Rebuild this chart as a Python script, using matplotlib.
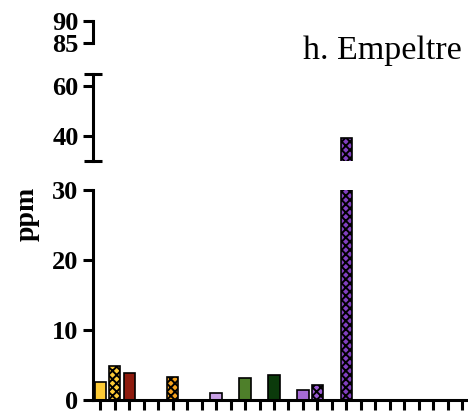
import matplotlib.pyplot as plt
from matplotlib.ticker import FixedLocator

plt.rcParams['font.family'] = 'Liberation Serif'
plt.rcParams['hatch.linewidth'] = 1.4

# one slot per sample, empty slots are zero
positions = list(range(26))
values = [2.6, 4.8, 3.9, 0, 0, 3.3, 0, 0, 1.0, 0, 3.1, 0, 3.6,
          0, 1.5, 2.2, 0, 39.0, 0, 0, 0, 0, 0, 0, 0, 0]
colors = ['#FDCB36', '#FDCB36', '#8E1B0E', 'white', 'white', '#F5A21E',
          'white', 'white', '#C9A0E6', 'white', '#4E7F2A', 'white', '#0B3A0B',
          'white', '#A66BD6', '#9B5BD3', 'white', '#8140C0', 'white', 'white',
          'white', 'white', 'white', 'white', 'white', 'white']
hatches = ['', 'xxxx', '', '', '', 'xxxx', '', '', '', '', '', '', '',
           '', '', 'xxxx', '', 'xxxx', '', '', '', '', '', '', '', '']

W, H = 468, 416
fig = plt.figure(figsize=(W / 100, H / 100), dpi=100)

def px_axes(top, bottom):
    return fig.add_axes([93 / W, (H - bottom) / H, (W - 93) / W, (bottom - top) / H])

ax_low = px_axes(190, 400)
ax_mid = px_axes(73.5, 161)
ax_top = px_axes(21, 43)

segments = [
    (ax_low, (0, 30), [0, 10, 20, 30], [30]),
    (ax_mid, (30, 65), [40, 60], [30, 65]),
    (ax_top, (85, 90), [85, 90], [85]),
]

lw = 2.2
for ax, lim, major, caps in segments:
    ax.bar(positions, values, width=0.78, color=colors, hatch=hatches,
           edgecolor='black', linewidth=1.2)
    ax.set_xlim(-0.5, 25.4)
    ax.set_ylim(*lim)
    ax.yaxis.set_major_locator(FixedLocator(major))
    ax.yaxis.set_minor_locator(FixedLocator(caps))
    for s in ['top', 'right']:
        ax.spines[s].set_visible(False)
    ax.spines['left'].set_linewidth(lw)
    ax.tick_params(axis='y', which='major', direction='out', length=7,
                   width=lw, pad=3.4, labelsize=19)
    ax.tick_params(axis='y', which='minor', direction='inout', length=13,
                   width=lw)
    for lab in ax.get_yticklabels():
        lab.set_fontweight('bold')
    if ax is ax_low:
        ax.spines['bottom'].set_linewidth(lw)
        ax.set_xticks(positions)
        ax.tick_params(axis='x', direction='out', length=7.5, width=lw,
                       labelbottom=False)
    else:
        ax.spines['bottom'].set_visible(False)
        ax.set_xticks([])

fig.text(27 / W, 1 - 214 / H, 'ppm', rotation=90, fontsize=20,
         fontweight='bold', ha='center', va='center')
fig.text(462 / W, 1 - 59 / H, 'h. Empeltre', fontsize=24.5,
         ha='right', va='baseline')

fig.savefig('out.png', dpi=100)
